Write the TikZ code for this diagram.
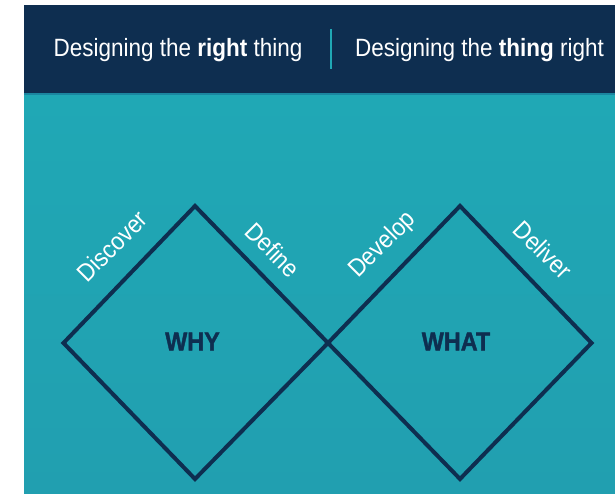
\documentclass[tikz,border=0pt]{standalone}
\usepackage{fontspec}
\setmainfont{Liberation Sans}
\newfontfamily\nsans[FakeStretch=0.9]{Liberation Sans}
\newfontfamily\bsans[FakeStretch=0.9, BoldFeatures={FakeBold=1.5}]{Liberation Sans}
\definecolor{navy}{HTML}{0E2E50}
\definecolor{tealtop}{HTML}{20A8B5}
\definecolor{tealbot}{HTML}{219FB0}
\definecolor{seam}{HTML}{1B86A0}
\tikzset{
  hdr/.style={text=white, inner sep=0pt, font=\nsans\fontsize{25}{30}\selectfont},
  phase/.style={text=white, inner sep=0pt, font=\nsans\fontsize{25}{30}\selectfont},
  core/.style={text=navy, inner sep=0pt, font=\bsans\bfseries\fontsize{26}{30}\selectfont},
  diamondline/.style={draw=navy, line width=4pt, line join=miter},
  divider/.style={draw=tealtop, line width=2pt}
}
\begin{document}
\begin{tikzpicture}[x=1pt,y=-1pt]
\useasboundingbox (0,0) rectangle (615,494);
\fill[white] (0,0) rectangle (615,494);
\shade[top color=tealtop, bottom color=tealbot] (24,94) rectangle (615,494);
\fill[navy] (24,5) rectangle (615,94);
\fill[seam] (24,93.5) rectangle (615,95);
% header texts
\node[hdr, anchor=base] (h1) at (178,57) {Designing the \textbf{right} thing};
\node[hdr, anchor=base] (h2) at (479.5,57) {Designing the \textbf{thing} right};
\coordinate (d1) at (331,29);
\coordinate (d2) at (331,69);
\draw[divider] (d1) -- (d2);
% diamonds
\coordinate (aL) at (63.5,343);
\coordinate (aT) at (195,206);
\coordinate (mid) at (328,343);
\coordinate (aB) at (195,479);
\coordinate (bT) at (460,206);
\coordinate (bR) at (591.5,343);
\coordinate (bB) at (460,479);
\draw[diamondline] (aL) -- (aT) -- (mid) -- (aB) -- cycle;
\draw[diamondline] (mid) -- (bT) -- (bR) -- (bB) -- cycle;
% phase labels
\node[phase, rotate=45] (discover) at (112,246) {Discover};
\node[phase, rotate=-45] (define) at (273,250) {Define};
\node[phase, rotate=45] (develop) at (383,245) {Develop};
\node[phase, rotate=-45] (deliver) at (543,250) {Deliver};
% core labels
\node[core] (why) at (192.5,341.5) {WHY};
\node[core] (what) at (456,341.5) {WHAT};
\end{tikzpicture}
\end{document}
